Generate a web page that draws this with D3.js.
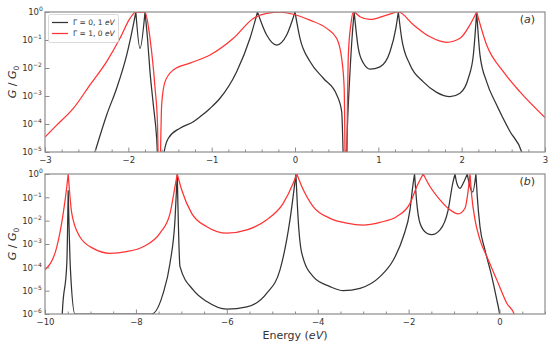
<!DOCTYPE html>
<html><head><meta charset="utf-8">
<script src="https://cdn.jsdelivr.net/npm/d3@7"></script>
<style>
body{margin:0;background:#fff;}
text{font-family:"DejaVu Sans",sans-serif;}
</style></head>
<body><svg id="c" width="550" height="348"></svg>
<script>
// ---- Panel (a): energy in eV, conductance G/G0 ----
const energyA_black = [-2.5,-2.40,-2.26,-2.14,-2.02,-1.94,-1.91,-1.86,-1.80,-1.77,-1.74,-1.70,-1.66,-1.62,-1.57,-1.52,-1.38,-1.22,-1.14,-1.02,-0.90,-0.70,-0.54,-0.45,-0.34,-0.22,-0.10,0.0,0.06,0.18,0.34,0.50,0.56,0.60,0.63,0.66,0.69,0.71,0.76,0.82,0.90,1.02,1.14,1.21,1.24,1.28,1.38,1.54,1.70,1.86,1.98,2.08,2.14,2.18,2.22,2.30,2.42,2.58,2.72,2.80];
const gA_black = [1e-6,1.0e-5,2.1e-4,1.9e-3,2.9e-2,0.35,1.0,0.050,1.0,0.115,7.4e-3,4.8e-4,3.1e-5,1e-7,1e-5,3.1e-5,7.1e-5,1.2e-4,1.8e-4,3.6e-4,8.3e-4,7.4e-3,0.115,1.0,0.15,0.066,0.15,1.0,0.115,0.017,4.3e-3,1.1e-3,2.8e-4,1e-7,1e-4,7.4e-3,0.20,1.0,0.050,0.015,9.1e-3,0.011,0.038,0.26,1.0,0.115,0.013,3.2e-3,1.35e-3,9.5e-4,1.26e-3,4.3e-3,0.029,1.0,0.029,3.2e-3,4.8e-4,5.4e-5,1.0e-5,1e-6];

const energyA_red = [-3.0,-2.86,-2.66,-2.46,-2.26,-2.10,-1.98,-1.91,-1.85,-1.80,-1.74,-1.68,-1.65,-1.63,-1.60,-1.56,-1.46,-1.26,-1.02,-0.74,-0.50,-0.34,-0.18,-0.02,0.18,0.38,0.50,0.56,0.59,0.61,0.64,0.67,0.70,0.78,0.90,1.10,1.24,1.42,1.62,1.82,1.98,2.10,2.18,2.30,2.50,2.70,3.0];
const gA_red = [3.4e-5,9.1e-5,3.6e-4,2.5e-3,1.7e-2,0.115,0.59,1.0,0.97,1.0,0.115,2.0e-3,1e-4,1e-7,5.0e-4,3.2e-3,8.5e-3,1.5e-2,2.9e-2,0.115,0.59,0.89,0.98,0.83,0.51,0.26,0.115,0.022,2.0e-3,1e-7,0.029,0.35,1.0,0.68,0.54,0.78,1.0,0.35,0.13,0.083,0.115,0.35,1.0,0.066,7.4e-3,1.4e-3,1.7e-4];

// ---- Panel (b) ----
const energyB_black = [-9.64,-9.62,-9.52,-9.49,-9.44,-9.34,-7.65,-7.40,-7.25,-7.14,-7.09,-7.03,-6.74,-6.44,-6.00,-5.56,-5.12,-4.83,-4.61,-4.48,-4.43,-4.35,-4.10,-3.73,-3.44,-3.07,-2.63,-2.34,-2.12,-1.97,-1.91,-1.87,-1.82,-1.75,-1.60,-1.49,-1.31,-1.13,-1.03,-0.98,-0.94,-0.87,-0.80,-0.71,-0.65,-0.59,-0.52,-0.49,-0.43,-0.32,-0.17,-0.06,0.0,0.05];
const gB_black = [1e-7,1.0e-6,1.5e-4,0.20,7.8e-5,1.0e-6,1.0e-6,7.8e-6,1.5e-4,0.011,1.0,1.07e-4,1.07e-5,3.4e-6,1.6e-6,2.0e-6,7.8e-6,7.8e-5,0.011,1.0,0.011,4.0e-4,4.0e-5,1.5e-5,1.0e-5,1.26e-5,4.0e-5,2.0e-4,2.0e-3,0.029,0.29,1.0,0.055,7.8e-3,2.9e-3,2.5e-3,4.0e-3,0.029,0.40,1.0,0.40,0.245,0.40,1.0,0.28,0.17,1.0,0.107,5.5e-3,5.5e-4,4.0e-5,4.0e-6,1.0e-6,1e-7];

const energyB_red = [-10.0,-9.74,-9.60,-9.52,-9.49,-9.41,-9.23,-8.94,-8.57,-8.21,-7.84,-7.47,-7.25,-7.14,-7.09,-6.99,-6.77,-6.44,-6.00,-5.56,-5.12,-4.76,-4.54,-4.46,-4.35,-4.10,-3.73,-3.36,-3.00,-2.63,-2.26,-1.97,-1.82,-1.68,-1.53,-1.31,-1.09,-0.91,-0.76,-0.69,-0.65,-0.61,-0.54,-0.43,-0.28,-0.06,0.16,0.32,0.45];
const gB_red = [7.8e-5,7.6e-4,0.020,0.29,1.0,0.020,2.0e-3,6.5e-4,4.0e-4,4.7e-4,7.6e-4,2.9e-3,0.020,0.29,1.0,0.20,0.020,5.5e-3,2.9e-3,4.0e-3,0.011,0.055,0.40,1.0,0.29,0.040,0.0126,7.8e-3,6.5e-3,8.5e-3,0.015,0.055,0.29,1.0,0.29,0.078,0.029,0.0195,0.034,0.20,1.0,0.107,0.011,1.5e-3,2.9e-4,2.9e-5,2.9e-6,1.0e-6,1e-7];

const ticksA = [-3,-2,-1,0,1,2,3];
const ticksB = [-10,-8,-6,-4,-2,0];
const expA = [0,-1,-2,-3,-4,-5];
const expB = [0,-1,-2,-3,-4,-5,-6];
const legendLabels = ["Γ = 0, 1 ", "Γ = 1, 0 "];

const svg = d3.select("#c");
const L = 45, R = 545;
const colBlack = "#333333", colRed = "#ff3333", frameCol = "#8c8c8c", txtCol = "#333";

// split a series at its sharp resonance maxima so each peak is drawn as a cusp
function segments(pts) {
  const cuts = [0];
  for (let i = 1; i < pts.length - 1; i++) {
    const v = pts[i][1];
    if (v / pts[i - 1][1] > 1.5 && v / pts[i + 1][1] > 1.5) cuts.push(i);
  }
  cuts.push(pts.length - 1);
  const segs = [];
  for (let k = 0; k < cuts.length - 1; k++) segs.push(pts.slice(cuts[k], cuts[k + 1] + 1));
  return segs;
}

function panel(id, top, bottom, xdom, ydom, majors, minorStep, exps, series, tag) {
  const x = d3.scaleLinear().domain(xdom).range([L, R]);
  const y = d3.scaleLog().domain(ydom).range([bottom, top]);
  svg.append("clipPath").attr("id", id).append("rect")
    .attr("x", L).attr("y", top).attr("width", R - L).attr("height", bottom - top);
  const g = svg.append("g");
  const line = d3.line().x(d => x(d[0])).y(d => y(d[1])).curve(d3.curveMonotoneX);
  series.forEach(s => {
    const pts = s.e.map((e, i) => [e, s.g[i]]);
    const d = segments(pts).map(sg => line(sg)).join("");
    g.append("path").attr("d", d).attr("fill", "none").attr("stroke-linejoin", "round")
      .attr("stroke", s.c).attr("stroke-width", 1.25).attr("clip-path", `url(#${id})`);
  });
  // minor x ticks
  const minors = d3.range(xdom[0], xdom[1] + 1e-9, minorStep).filter(v => !majors.some(m => Math.abs(m - v) < 1e-6));
  const ax = svg.append("g").attr("transform", `translate(0,${bottom})`)
    .call(d3.axisBottom(x).tickValues(minors).tickSize(-2.5).tickFormat(""));
  ax.select(".domain").remove();
  ax.selectAll("line").attr("stroke", frameCol);
  const axM = svg.append("g").attr("transform", `translate(0,${bottom})`)
    .call(d3.axisBottom(x).tickValues(majors).tickSize(-4.5).tickPadding(5).tickFormat(d => d < 0 ? "−" + Math.abs(d) : String(d)));
  axM.select(".domain").remove();
  axM.selectAll("line").attr("stroke", frameCol);
  axM.selectAll("text").attr("font-size", 8.5).attr("fill", txtCol).attr("font-family", "DejaVu Sans");
  // y axis
  const ay = svg.append("g").attr("transform", `translate(${L},0)`)
    .call(d3.axisLeft(y).tickValues(exps.map(e => Math.pow(10, e))).tickSize(-4.5).tickPadding(2).tickFormat(""));
  ay.select(".domain").remove();
  ay.selectAll("line").attr("stroke", frameCol);
  exps.forEach(e => {
    svg.append("text").attr("x", L - 2 - (e < 0 ? 10 : 4)).attr("y", y(Math.pow(10, e)) + 3.2)
      .attr("font-size", 8.5).attr("fill", txtCol).attr("text-anchor", "end").text("10");
    svg.append("text").attr("x", L - 2 - (e < 0 ? 10 : 4)).attr("y", y(Math.pow(10, e)) - 0.8)
      .attr("font-size", 6).attr("fill", txtCol).text(e < 0 ? "−" + Math.abs(e) : String(e));
  });
  // frame
  svg.append("rect").attr("x", L).attr("y", top).attr("width", R - L).attr("height", bottom - top)
    .attr("fill", "none").attr("stroke", frameCol).attr("stroke-width", 1.2);
  // y label
  const yl = svg.append("text").attr("transform", `translate(16,${(top + bottom) / 2}) rotate(-90)`)
    .attr("text-anchor", "middle").attr("font-size", 11).attr("fill", txtCol);
  yl.append("tspan").attr("font-style", "italic").text("G");
  yl.append("tspan").text(" / ");
  yl.append("tspan").attr("font-style", "italic").text("G");
  yl.append("tspan").attr("font-size", 7.5).attr("dy", 2.5).text("0");
  // tag
  const tg = svg.append("text").attr("x", 535).attr("y", top + 11).attr("text-anchor", "end")
    .attr("font-size", 11).attr("fill", txtCol);
  tg.append("tspan").text("(");
  tg.append("tspan").attr("font-style", "italic").text(tag);
  tg.append("tspan").text(")");
  return {x, y};
}

panel("clipA", 12, 152, [-3, 3], [1e-5, 1], ticksA, 0.2, expA,
  [{e: energyA_black, g: gA_black, c: colBlack}, {e: energyA_red, g: gA_red, c: colRed}], "a");
panel("clipB", 174, 314, [-10, 1], [1e-6, 1], ticksB, 0.5, expB,
  [{e: energyB_black, g: gB_black, c: colBlack}, {e: energyB_red, g: gB_red, c: colRed}], "b");

// legend
const lg = svg.append("g");
lg.append("rect").attr("x", 48.5).attr("y", 14.5).attr("width", 70).attr("height", 28).attr("rx", 2)
  .attr("fill", "#fff").attr("fill-opacity", 0.85).attr("stroke", "#d0d0d0").attr("stroke-width", 0.8);
[colBlack, colRed].forEach((c, i) => {
  const yy = 22.5 + i * 11;
  lg.append("line").attr("x1", 52).attr("x2", 68).attr("y1", yy).attr("y2", yy).attr("stroke", c).attr("stroke-width", 1.25);
  const t = lg.append("text").attr("x", 73).attr("y", yy + 2.6).attr("font-size", 7.5).attr("fill", txtCol);
  t.append("tspan").text(legendLabels[i]);
  t.append("tspan").attr("font-style", "italic").text("eV");
});

// x label
const xl = svg.append("text").attr("x", 295).attr("y", 339).attr("text-anchor", "middle").attr("font-size", 11).attr("fill", txtCol);
xl.append("tspan").text("Energy (");
xl.append("tspan").attr("font-style", "italic").text("eV");
xl.append("tspan").text(")");
</script></body></html>
